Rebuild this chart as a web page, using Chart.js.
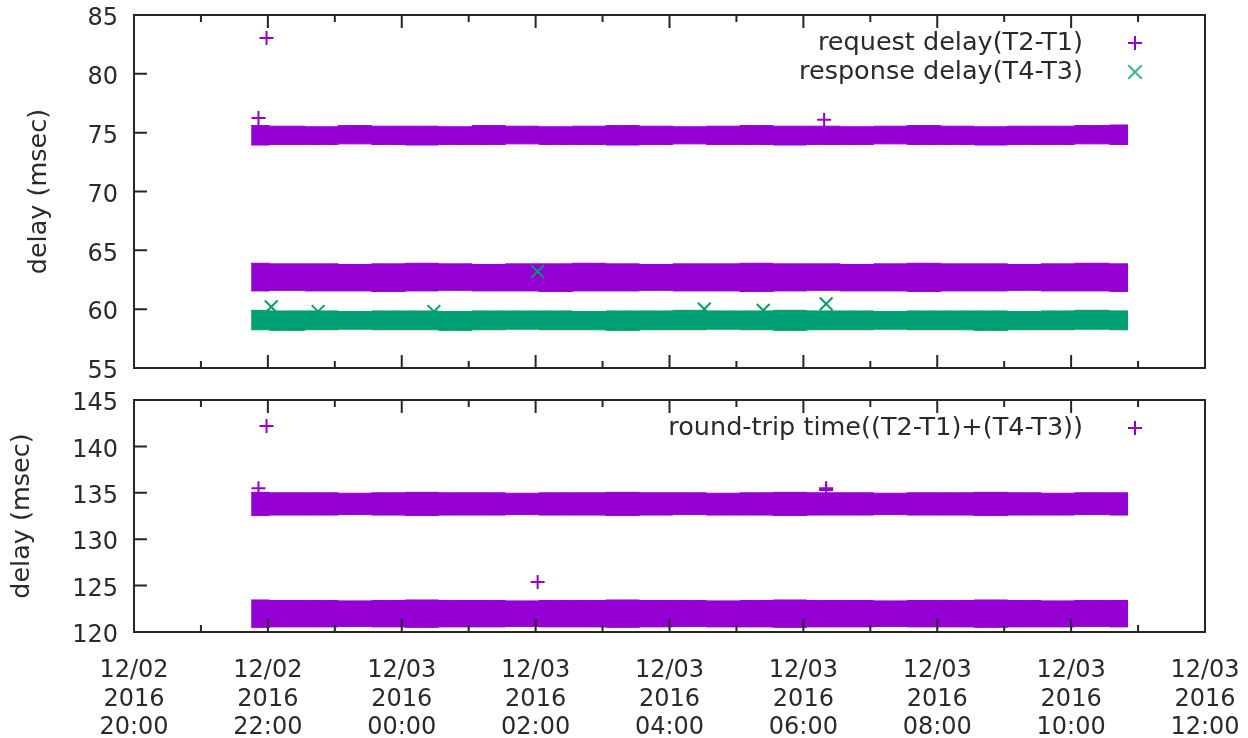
<!DOCTYPE html>
<html>
<head>
<meta charset="utf-8">
<script src="https://cdn.jsdelivr.net/npm/chart.js@4"></script>
<style>
  html, body { margin: 0; padding: 0; background: #fff; }
  #wrap { position: relative; width: 1248px; height: 738px; }
  canvas { position: absolute; left: 0; }
</style>
</head>
<body>
<div id="wrap">
  <canvas id="delayChart" width="1248" height="380" style="top:0"></canvas>
  <canvas id="rttChart" width="1248" height="358" style="top:380px"></canvas>
</div>
<script>
// x values are hours counted from 12/02 00:00 (so 24 = 12/03 00:00)
var bandHours = [21.75, 22.3, 22.8, 23.3, 23.8, 24.3, 24.8, 25.3, 25.8, 26.3, 26.8, 27.3, 27.8, 28.3,
                 28.8, 29.3, 29.8, 30.3, 30.8, 31.3, 31.8, 32.3, 32.8, 33.3, 33.8, 34.3, 34.85]

// edges of the dense bands of samples (msec)
var reqSlowTop    = [75.6, 75.55, 75.5, 75.6, 75.55, 75.55, 75.5, 75.6, 75.55, 75.5, 75.55, 75.6, 75.55, 75.5, 75.55, 75.6, 75.55, 75.55, 75.5, 75.55, 75.6, 75.55, 75.5, 75.55, 75.55, 75.6, 75.65]
var reqSlowBottom = [73.95, 74.0, 74.0, 74.05, 74.0, 73.95, 74.0, 74.0, 74.05, 74.0, 74.0, 73.95, 74.0, 74.05, 74.0, 74.0, 73.95, 74.0, 74.0, 74.05, 74.0, 74.0, 73.95, 74.0, 74.0, 74.05, 74.0]
var reqFastTop    = [63.9, 63.85, 63.85, 63.8, 63.85, 63.9, 63.85, 63.8, 63.85, 63.85, 63.9, 63.85, 63.8, 63.85, 63.85, 63.9, 63.85, 63.85, 63.8, 63.85, 63.9, 63.85, 63.85, 63.8, 63.85, 63.9, 63.85]
var reqFastBottom = [61.55, 61.6, 61.55, 61.55, 61.5, 61.55, 61.6, 61.55, 61.55, 61.5, 61.55, 61.55, 61.6, 61.55, 61.55, 61.5, 61.55, 61.6, 61.55, 61.55, 61.5, 61.55, 61.55, 61.6, 61.55, 61.55, 61.5]
var respTop       = [59.9, 59.85, 59.85, 59.8, 59.85, 59.85, 59.8, 59.85, 59.85, 59.85, 59.8, 59.85, 59.85, 59.9, 59.85, 59.85, 59.9, 59.85, 59.85, 59.8, 59.85, 59.85, 59.85, 59.8, 59.85, 59.9, 59.85]
var respBottom    = [58.25, 58.2, 58.25, 58.3, 58.25, 58.25, 58.2, 58.25, 58.3, 58.25, 58.25, 58.2, 58.25, 58.25, 58.3, 58.25, 58.2, 58.25, 58.25, 58.3, 58.25, 58.25, 58.2, 58.25, 58.25, 58.3, 58.25]
var rttSlowTop    = [135.05, 135.0, 135.0, 134.95, 135.0, 135.05, 135.0, 135.0, 134.95, 135.0, 135.0, 135.05, 135.0, 135.0, 134.95, 135.0, 135.05, 135.0, 135.0, 134.95, 135.0, 135.0, 135.05, 135.0, 134.95, 135.0, 135.0]
var rttSlowBottom = [132.55, 132.6, 132.6, 132.65, 132.6, 132.55, 132.6, 132.6, 132.65, 132.6, 132.6, 132.55, 132.6, 132.65, 132.6, 132.6, 132.55, 132.6, 132.6, 132.65, 132.6, 132.6, 132.55, 132.6, 132.6, 132.65, 132.6]
var rttFastTop    = [123.45, 123.4, 123.4, 123.35, 123.4, 123.45, 123.4, 123.4, 123.35, 123.4, 123.4, 123.45, 123.4, 123.4, 123.35, 123.4, 123.45, 123.4, 123.4, 123.35, 123.4, 123.4, 123.45, 123.4, 123.35, 123.4, 123.4]
var rttFastBottom = [120.5, 120.55, 120.55, 120.6, 120.55, 120.5, 120.55, 120.55, 120.6, 120.55, 120.55, 120.5, 120.55, 120.6, 120.55, 120.55, 120.5, 120.55, 120.55, 120.6, 120.55, 120.55, 120.5, 120.55, 120.55, 120.6, 120.55]

// single samples away from the bands
var reqOutHours  = [21.98, 21.86, 30.31]
var reqOutValues = [83.05, 76.25, 76.1]
var respOutHours  = [26.03, 22.05, 22.75, 24.48, 28.52, 30.34, 29.4]
var respOutValues = [63.2, 60.2, 59.8, 59.8, 60.0, 60.45, 59.9]
var rttOutHours  = [21.98, 21.86, 30.34, 30.34, 26.03]
var rttOutValues = [142.2, 135.5, 135.5, 135.3, 125.4]

var hourMarks = [20, 21, 22, 23, 24, 25, 26, 27, 28, 29, 30, 31, 32, 33, 34, 35, 36]

var purple = '#9400d3'
var green = '#009e73'
var textColor = '#2a2a2a'
var fontFamily = '"DejaVu Sans", sans-serif'

function pts(xs, ys) {
    return xs.map(function (x, i) { return { x: x, y: ys[i] } })
}

function band(top, bottom, color, order) {
    var common = {
        borderColor: color, backgroundColor: color, borderWidth: 1,
        stepped: 'middle', pointRadius: 0, order: order
    }
    return [
        Object.assign({ data: pts(bandHours, bottom), fill: false }, common),
        Object.assign({ data: pts(bandHours, top), fill: '-1' }, common)
    ]
}

function marks(xs, ys, color, style) {
    return {
        data: pts(xs, ys), showLine: false, borderColor: color, backgroundColor: color,
        pointStyle: style, pointRadius: style == 'crossRot' ? 9 : 7, pointBorderWidth: 2, order: 0
    }
}

function timeLabel(v) {
    var day = v < 24 ? '12/02' : '12/03'
    var h = v % 24
    return [day, '2016', (h < 10 ? '0' : '') + h + ':00']
}

// gnuplot style frame, inward ticks, y labels and key
var gnuFrame = {
    id: 'gnuFrame',
    afterDraw: function (chart, args, opts) {
        var ctx = chart.ctx, a = chart.chartArea
        var xs = chart.scales.x, ys = chart.scales.y
        ctx.save()
        ctx.strokeStyle = '#262626'
        ctx.lineWidth = 2
        ctx.strokeRect(a.left, a.top, a.right - a.left, a.bottom - a.top)
        ctx.beginPath()
        hourMarks.forEach(function (h) {
            var px = xs.getPixelForValue(h)
            var len = h % 2 ? 7 : 13
            ctx.moveTo(px, a.bottom); ctx.lineTo(px, a.bottom - len)
            ctx.moveTo(px, a.top); ctx.lineTo(px, a.top + len)
        })
        ys.ticks.forEach(function (t) {
            var py = ys.getPixelForValue(t.value)
            ctx.moveTo(a.left, py); ctx.lineTo(a.left + 13, py)
        })
        ctx.stroke()

        ctx.fillStyle = textColor
        ctx.font = '24px ' + fontFamily
        ctx.textAlign = 'right'
        ctx.textBaseline = 'middle'
        ys.ticks.forEach(function (t) {
            ctx.fillText(String(t.value), a.left - 16, ys.getPixelForValue(t.value) + 4)
        })

        ctx.font = '25.5px ' + fontFamily
        opts.key.forEach(function (k, i) {
            var ky = a.top + 28 + i * 29
            ctx.fillStyle = textColor
            ctx.fillText(k.text, a.right - 122, ky)
            ctx.strokeStyle = k.color
            ctx.lineWidth = 2
            Chart.helpers.drawPoint(ctx, { pointStyle: k.style, radius: k.style == 'crossRot' ? 9.5 : 7, borderWidth: 2 }, a.right - 70, ky)
        })
        ctx.restore()
    }
}

function makeOptions(ymin, ymax, titlePad, key, showX) {
    return {
        responsive: false,
        animation: false,
        devicePixelRatio: 1,
        layout: { padding: { left: 0, right: 43, top: showX ? 20 : 15, bottom: 0 } },
        plugins: {
            legend: { display: false },
            tooltip: { enabled: false },
            gnuFrame: { key: key }
        },
        scales: {
            x: {
                type: 'linear', min: 20, max: 36,
                grid: { display: false }, border: { display: false },
                ticks: {
                    display: showX, stepSize: 2, autoSkip: false, maxRotation: 0,
                    padding: 17, color: textColor,
                    font: { family: fontFamily, size: 24, lineHeight: 1.18 },
                    callback: function (v) { return timeLabel(v) }
                },
                afterFit: function (s) {
                    s.height = showX ? 106 : 12
                    s.paddingLeft = 0
                    s.paddingRight = 0
                }
            },
            y: {
                min: ymin, max: ymax,
                grid: { display: false }, border: { display: false },
                ticks: { display: false, stepSize: 5 },
                title: {
                    display: true, text: 'delay (msec)', color: textColor,
                    font: { family: fontFamily, size: 25.5 },
                    padding: { top: titlePad, bottom: 0 }
                },
                afterFit: function (s) { s.width = 134 }
            }
        }
    }
}

var delayChart = new Chart(document.getElementById('delayChart'), {
    type: 'line',
    data: {
        datasets: [
            marks(respOutHours, respOutValues, green, 'crossRot'),
            marks(reqOutHours, reqOutValues, purple, 'cross')
        ].concat(band(respTop, respBottom, green, 1))
         .concat(band(reqSlowTop, reqSlowBottom, purple, 2))
         .concat(band(reqFastTop, reqFastBottom, purple, 2))
    },
    options: makeOptions(55, 85, 24, [
        { text: 'request delay(T2-T1)', color: purple, style: 'cross' },
        { text: 'response delay(T4-T3)', color: '#3cb58f', style: 'crossRot' }
    ], false),
    plugins: [gnuFrame]
})

var rttChart = new Chart(document.getElementById('rttChart'), {
    type: 'line',
    data: {
        datasets: [
            marks(rttOutHours, rttOutValues, purple, 'cross')
        ].concat(band(rttSlowTop, rttSlowBottom, purple, 2))
         .concat(band(rttFastTop, rttFastBottom, purple, 2))
    },
    options: makeOptions(120, 145, 7, [
        { text: 'round-trip time((T2-T1)+(T4-T3))', color: purple, style: 'cross' }
    ], true),
    plugins: [gnuFrame]
})
</script>
</body>
</html>
